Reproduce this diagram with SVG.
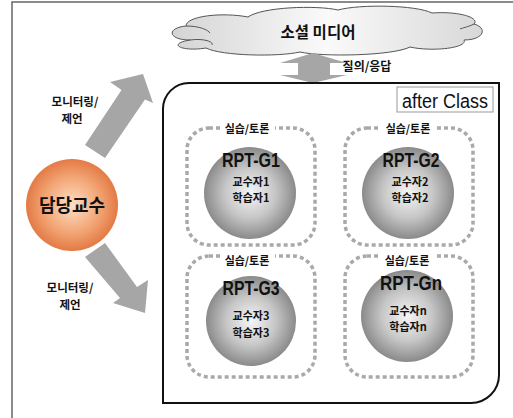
<svg xmlns="http://www.w3.org/2000/svg" width="513" height="418" viewBox="0 0 513 418">
<defs>
<linearGradient id="cloudG" x1="0" y1="0" x2="1" y2="0">
<stop offset="0" stop-color="#d4d4d4"/>
<stop offset="0.5" stop-color="#fafafa"/>
<stop offset="1" stop-color="#d8d8d8"/>
</linearGradient>
<radialGradient id="orangeG" cx="0.5" cy="0.5" r="0.5">
<stop offset="0" stop-color="#fde0c8"/>
<stop offset="0.6" stop-color="#f3a676"/>
<stop offset="1" stop-color="#e37a45"/>
</radialGradient>
<radialGradient id="grayG" cx="0.5" cy="0.5" r="0.5">
<stop offset="0" stop-color="#f6f6f6"/>
<stop offset="0.55" stop-color="#c6c6c6"/>
<stop offset="1" stop-color="#8a8a8a"/>
</radialGradient>
<style>
.kr{font-family:"Noto Sans CJK KR","Noto Sans",sans-serif;font-weight:bold;fill:#111;text-anchor:middle}
.en{font-family:"Liberation Sans",Arial,sans-serif;fill:#111;text-anchor:middle}
.dot{fill:none;stroke:#a9a9a9;stroke-width:3.5;stroke-dasharray:4 3}
.arrow{fill:#a6a6a6;stroke:none}
.gc{fill:url(#grayG)}
.lbl{font-size:11.5px}
.in{font-size:11px}
</style>
</defs>
<rect width="513" height="418" fill="#fff"/>
<path d="M12,418 L12,2 L513,2" fill="none" stroke="#666" stroke-width="1.5"/>

<g id="cloud">
<path d="M190,40 C168,40 166,28 186,26 C186,16 222,12 248,17 C262,7 316,5 338,10 C360,4 416,5 432,13 C460,11 480,18 474,24 C488,28 484,40 464,40 C468,48 432,52 410,47 C392,56 322,57 300,52 C278,57 222,56 206,48 C182,52 166,44 190,40 Z" fill="url(#cloudG)" stroke="#555" stroke-width="1"/>
<path d="M186,26 C200,26 208,30 210,33" fill="none" stroke="#555" stroke-width="1"/>
<path d="M190,40 C204,38 214,42 212,45" fill="none" stroke="#555" stroke-width="1"/>
<path d="M474,24 C468,27 462,28 460,29" fill="none" stroke="#555" stroke-width="1"/>
<text class="kr" x="318" y="38" font-size="15.5">소셜 미디어</text>
</g>

<g id="connectors">
<polygon class="arrow" points="313,53 347,63 330,63 330,75 347,75 313,83 280,75 298,75 298,63 280,63"/>
<polygon class="arrow" points="85,145 121.5,90 110,82 143,74 153,103 145,99.5 105,158"/>
<polygon class="arrow" points="105,243 137,287 148,280 145,313 113,303 120,298 85,257"/>
<text class="kr" x="367" y="71" font-size="12">질의/응답</text>
<text class="kr lbl" x="75" y="106">모니터링/</text>
<text class="kr lbl" x="72" y="123">제언</text>
<text class="kr lbl" x="70" y="292">모니터링/</text>
<text class="kr lbl" x="70" y="309">제언</text>
</g>

<g id="professor">
<circle cx="72" cy="205" r="46" fill="url(#orangeG)"/>
<text class="kr" x="72" y="212" font-size="18">담당교수</text>
</g>

<g id="afterClass">
<path d="M163,403 L163,109 A26,26 0 0 1 189,83 L499,83 L499,375 A28,28 0 0 1 471,403 Z" fill="none" stroke="#111" stroke-width="2"/>
<rect x="397" y="87" width="96" height="25" fill="#fff" stroke="#999" stroke-width="1"/>
<text class="en" x="445" y="108" font-size="20" textLength="86" lengthAdjust="spacingAndGlyphs">after Class</text>
</g>

<g id="group1">
<rect class="dot" x="187" y="128" width="128" height="117" rx="22"/>
<rect x="220" y="121" width="55" height="14" fill="#fff"/>
<text class="kr" x="247" y="133" font-size="11">실습/토론</text>
<circle class="gc" cx="250" cy="193" r="46"/>
<text class="en" x="251" y="167" font-size="21" font-weight="bold" textLength="58" lengthAdjust="spacingAndGlyphs">RPT-G1</text>
<text class="kr in" x="251" y="186">교수자1</text>
<text class="kr in" x="251" y="202">학습자1</text>
</g>

<g id="group2">
<rect class="dot" x="345" y="128" width="128" height="117" rx="22"/>
<rect x="381" y="121" width="55" height="14" fill="#fff"/>
<text class="kr" x="408" y="133" font-size="11">실습/토론</text>
<circle class="gc" cx="408" cy="193" r="46"/>
<text class="en" x="411" y="167" font-size="21" font-weight="bold" textLength="57" lengthAdjust="spacingAndGlyphs">RPT-G2</text>
<text class="kr in" x="410" y="186">교수자2</text>
<text class="kr in" x="410" y="202">학습자2</text>
</g>

<g id="group3">
<rect class="dot" x="187" y="256" width="128" height="121" rx="22"/>
<rect x="220" y="249" width="55" height="14" fill="#fff"/>
<text class="kr" x="247" y="265" font-size="11">실습/토론</text>
<circle class="gc" cx="251" cy="321" r="45"/>
<text class="en" x="251" y="295" font-size="21" font-weight="bold" textLength="57" lengthAdjust="spacingAndGlyphs">RPT-G3</text>
<text class="kr in" x="251" y="320">교수자3</text>
<text class="kr in" x="251" y="337">학습자3</text>
</g>

<g id="groupN">
<rect class="dot" x="345" y="256" width="128" height="121" rx="22"/>
<rect x="380" y="249" width="55" height="14" fill="#fff"/>
<text class="kr" x="407" y="265" font-size="11">실습/토론</text>
<circle class="gc" cx="407" cy="316" r="46"/>
<text class="en" x="411" y="290" font-size="21" font-weight="bold" textLength="62" lengthAdjust="spacingAndGlyphs">RPT-Gn</text>
<text class="kr in" x="408" y="315">교수자n</text>
<text class="kr in" x="408" y="331">학습자n</text>
</g>
</svg>
